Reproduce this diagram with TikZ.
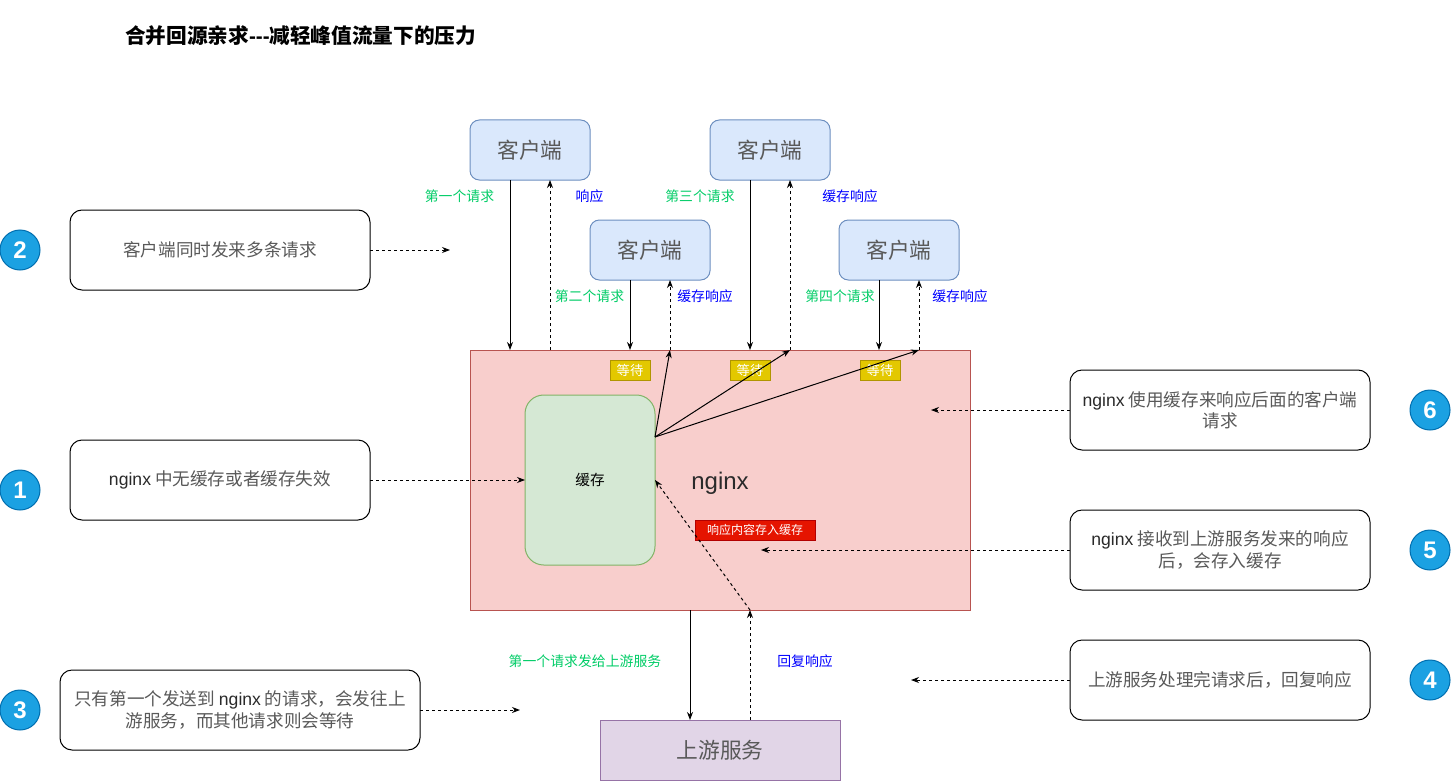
\documentclass[tikz,border=0pt]{standalone}
\usepackage{fontspec}
\setmainfont{Noto Sans CJK SC}
\newfontfamily\lat{Liberation Sans}
\usetikzlibrary{arrows.meta,calc}
\definecolor{cliF}{HTML}{DAE8FC}\definecolor{cliB}{HTML}{6C8EBF}
\definecolor{ngF}{HTML}{F8CECC}\definecolor{ngB}{HTML}{B85450}
\definecolor{caF}{HTML}{D5E8D4}\definecolor{caB}{HTML}{82B366}
\definecolor{wtF}{HTML}{E3C800}\definecolor{wtB}{HTML}{B09500}
\definecolor{rdF}{HTML}{E51400}\definecolor{rdB}{HTML}{B20000}
\definecolor{upF}{HTML}{E1D5E7}\definecolor{upB}{HTML}{9673A6}
\definecolor{ciF}{HTML}{1BA1E2}\definecolor{ciB}{HTML}{006EAF}
\definecolor{grT}{HTML}{00CC66}\definecolor{blT}{HTML}{0000FF}
\definecolor{txG}{HTML}{595959}\definecolor{txD}{HTML}{2A2A2A}
\begin{document}
\begin{tikzpicture}[x=0.75pt,y=-0.75pt,
  every node/.style={inner sep=0pt,outer sep=0pt},
  arr/.style={-{Stealth[length=6pt,width=4.5pt]},line width=0.75pt,draw=black},
  darr/.style={arr,dash pattern=on 2.25pt off 2.25pt},
  client/.style={draw=cliB,fill=cliF,line width=0.75pt,rounded corners=7pt,anchor=north west,
    minimum width=90pt,minimum height=45pt,text=txG,font=\fontsize{16.3}{19}\selectfont},
  note/.style={draw=black,fill=white,line width=0.75pt,rounded corners=9pt,anchor=north west,
    minimum width=225pt,minimum height=60pt,text=txG,align=center,font=\fontsize{13.2}{16}\selectfont},
  num/.style={circle,draw=ciB,fill=ciF,line width=0.75pt,minimum size=30pt,text=white,
    font=\lat\bfseries\fontsize{18}{20}\selectfont},
  waitbox/.style={draw=wtB,fill=wtF,line width=0.75pt,anchor=north west,minimum width=30pt,
    minimum height=15pt,text=white,font=\fontsize{10}{12}\selectfont},
  lblg/.style={text=grT,font=\fontsize{10.4}{12}\selectfont},
  lblb/.style={text=blT,font=\fontsize{10.4}{12}\selectfont}]
\useasboundingbox (0,0) rectangle (1451,781);
% title
\node[anchor=west,font=\bfseries\fontsize{15.5}{18}\selectfont] (title) at (125,36) {合并回源亲求{\lat{-}{-}{-}}减轻峰值流量下的压力};
% nginx
\node[draw=ngB,fill=ngF,line width=0.75pt,anchor=north west,minimum width=375pt,minimum height=195pt] (ngx) at (470,350) {};
\node[text=txD,font=\lat\fontsize{18}{20}\selectfont] (ngxt) at (720,483) {nginx};
\node[draw=caB,fill=caF,line width=0.75pt,rounded corners=14pt,anchor=north west,minimum width=97.5pt,minimum height=127.5pt,font=\fontsize{11}{13}\selectfont] (cache) at (525,395) {缓存};
\node[waitbox] (w1) at (610,360) {等待};
\node[waitbox] (w2) at (730,360) {等待};
\node[waitbox] (w3) at (860,360) {等待};
\node[draw=rdB,fill=rdF,line width=0.75pt,anchor=north west,minimum width=90pt,minimum height=15pt,text=white,font=\fontsize{9}{11}\selectfont] (store) at (695,520) {响应内容存入缓存};
% clients
\node[client] (c1) at (470,120) {客户端};
\node[client] (c3) at (710,120) {客户端};
\node[client] (c2) at (590,220) {客户端};
\node[client] (c4) at (839,220) {客户端};
% upstream
\node[draw=upB,fill=upF,line width=0.75pt,anchor=north west,minimum width=180pt,minimum height=45pt,text=txG,font=\fontsize{16.3}{19}\selectfont] (up) at (600,720) {上游服务};
% notes
\node[note] (b2) at (70,210) {客户端同时发来多条请求};
\node[note] (b1) at (70,440) {{\lat\color{txD}nginx} 中无缓存或者缓存失效};
\node[note,minimum width=270pt] (b3) at (60,670) {只有第一个发送到 {\lat\color{txD}nginx} 的请求，会发往上\\游服务，而其他请求则会等待};
\node[note] (b6) at (1070,370) {{\lat\color{txD}nginx} 使用缓存来响应后面的客户端\\请求};
\node[note] (b5) at (1070,510) {{\lat\color{txD}nginx} 接收到上游服务发来的响应\\后，会存入缓存};
\node[note] (b4) at (1070,640) {上游服务处理完请求后，回复响应};
% numbers
\node[num] (n2) at (20,250) {2};
\node[num] (n1) at (20,490) {1};
\node[num] (n3) at (20,710) {3};
\node[num] (n6) at (1430,410) {6};
\node[num] (n5) at (1430,550) {5};
\node[num] (n4) at (1430,680) {4};
% labels
\node[lblg] (l1) at (459.5,196.5) {第一个请求};
\node[lblb] (l1r) at (589.5,196.5) {响应};
\node[lblg] (l3) at (700,196.5) {第三个请求};
\node[lblb] (l3r) at (850,196.5) {缓存响应};
\node[lblg] (l2) at (589.5,296.5) {第二个请求};
\node[lblb] (l2r) at (705,296.5) {缓存响应};
\node[lblg] (l4) at (840,296.5) {第四个请求};
\node[lblb] (l4r) at (960,296.5) {缓存响应};
\node[lblg] (lu) at (585,661.5) {第一个请求发给上游服务};
\node[lblb] (lur) at (805,661.5) {回复响应};
% client connectors
\foreach \c in {1,2,3,4}{
  \coordinate (q\c) at ($(c\c.south)+(-20,0)$);
  \coordinate (qe\c) at (q\c |- ngx.north);
  \coordinate (r\c) at ($(c\c.south)+(20,0)$);
  \coordinate (re\c) at (r\c |- ngx.north);
  \draw[arr] (q\c) -- (qe\c);
  \draw[darr] (re\c) -- (r\c);
}
% cache responses
\coordinate (co) at ($(cache.north east)+(0,42)$);
\draw[arr] (co) -- (re2);
\draw[arr] (co) -- (re3);
\draw[arr] (co) -- (re4);
% upstream
\coordinate (u1) at ($(up.north)+(-30,0)$);
\coordinate (ue1) at (u1 |- ngx.south);
\coordinate (u2) at ($(up.north)+(30,0)$);
\coordinate (ue2) at (u2 |- ngx.south);
\draw[arr] (ue1) -- (u1);
\draw[darr] (u2) -- (ue2);
\draw[darr] (ue2) -- (cache.east);
% note pointers
\coordinate (t2) at (450,250);
\coordinate (t3) at (520,710);
\coordinate (t6) at (931,410);
\coordinate (t5) at (761,550);
\coordinate (t4) at (911,680);
\draw[darr] (b2.east) -- (t2);
\draw[darr] (b1.east) -- (cache.west);
\draw[darr] (b3.east) -- (t3);
\draw[darr] (b6.west) -- (t6);
\draw[darr] (b5.west) -- (t5);
\draw[darr] (b4.west) -- (t4);
\end{tikzpicture}
\end{document}
